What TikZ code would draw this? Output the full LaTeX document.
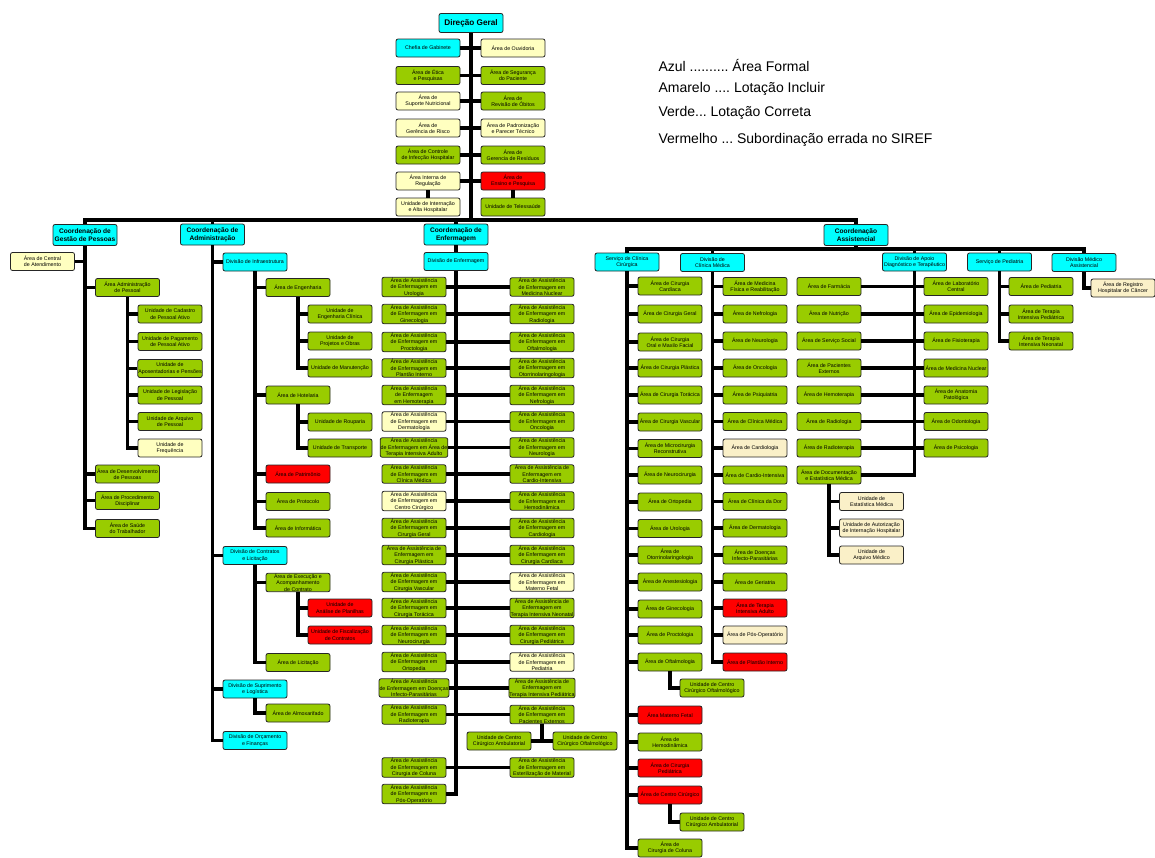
\documentclass[tikz,border=0pt]{standalone}
\usepackage{fontspec}
\setmainfont{Liberation Sans}
\usetikzlibrary{calc}
\frenchspacing
\definecolor{ciano}{RGB}{0,255,255}
\definecolor{verde}{RGB}{153,204,0}
\definecolor{amarelo}{RGB}{255,255,192}
\definecolor{bege}{RGB}{250,240,200}
\definecolor{vermelho}{RGB}{255,0,0}
\tikzset{
  caixa/.style={draw=black!85,line width=0.8pt,rounded corners=2pt,minimum width=64pt,inner xsep=0.5pt,inner ysep=0.5pt,minimum height=18pt,align=center,font=\fontsize{5.3}{6.4}\selectfont},
  az/.style={caixa,fill=ciano},
  vd/.style={caixa,fill=verde},
  am/.style={caixa,fill=amarelo},
  be/.style={caixa,fill=bege},
  vm/.style={caixa,fill=vermelho},
  coord/.style={caixa,fill=ciano,minimum height=21pt,font=\bfseries\fontsize{6.6}{7.8}\selectfont},
  liga/.style={line width=3.6pt},
  legenda/.style={anchor=west,font=\fontsize{14}{16}\selectfont}
}
\newcommand{\aae}[1]{Área de Assistência\\de Enfermagem em\\#1}
\begin{document}
\begin{tikzpicture}[x=1pt,y=-1pt]
\useasboundingbox (0,0) rectangle (1155,857);
\node[coord,minimum height=19pt,font=\bfseries\fontsize{8.2}{9}\selectfont] (dg) at (471,23) {Direção Geral};
\node[az] (gab) at (428,48) {Chefia de Gabinete};
\node[am] (ouv) at (513,48) {Área de Ouvidoria};
\node[vd] (etica) at (428,75.5) {Área de Ética\\e Pesquisas};
\node[vd] (seg) at (513,75.5) {Área de Segurança\\do Paciente};
\node[am] (nutr) at (428,101) {Área de\\Suporte Nutricional};
\node[vd] (obitos) at (513,101) {Área de\\Revisão de Óbitos};
\node[am] (risco) at (428,128) {Área de\\Gerência de Risco};
\node[am] (padr) at (513,128) {Área de Padronização\\e Parecer Técnico};
\node[vd] (infec) at (428,155) {Área de Controle\\de Infecção Hospitalar};
\node[vd] (resid) at (513,155) {Área de\\Gerencia de Resíduos};
\node[am] (regul) at (428,181) {Área Interna de\\Regulação};
\node[vm] (ensino) at (513,181) {Área de\\Ensino e Pesquisa};
\node[am] (intern) at (428,207) {Unidade de Internação\\e Alta Hospitalar};
\node[vd] (teles) at (513,207) {Unidade de Telessaúde};
\coordinate (bar) at (471,220);
\draw[liga] (dg.south) -- (bar);
\draw[liga] (gab.east) -- (ouv.west) (etica.east) -- (seg.west) (nutr.east) -- (obitos.west)
  (risco.east) -- (padr.west) (infec.east) -- (resid.west) (regul.east) -- (ensino.west);
\draw[liga] (regul.south) -- (intern.north) (ensino.south) -- (teles.north);

\node[legenda] (leg1) at (655,65) {Azul .......... Área Formal};
\node[legenda] (leg2) at (655,89) {Amarelo .... Lotação Incluir};
\node[legenda] (leg3) at (655,113) {Verde... Lotação Correta};
\node[legenda] (leg4) at (655,140) {Vermelho ... Subordinação errada no SIREF};

\node[coord] (gp) at (85,235) {Coordenação de\\Gestão de Pessoas};
\node[coord] (adm) at (212.5,234.5) {Coordenação de\\Administração};
\node[coord] (enf) at (456,234.5) {Coordenação de\\Enfermagem};
\node[coord] (ca) at (856,235) {Coordenação\\Assistencial};
\draw[liga] (gp.north) -- (gp.north |- bar) -- (ca.north |- bar) -- (ca.north);
\draw[liga] (adm.north) -- (adm.north |- bar) (enf.north) -- (enf.north |- bar);

\node[am] (central) at (42.5,261.5) {Área de Central\\de Atendimento};
\node[vd] (admpes) at (127.5,287.5) {Área Administração\\de Pessoal};
\node[vd] (gp1) at (170,314) {Unidade de Cadastro\\de Pessoal Ativo};
\node[vd] (gp2) at (170,341.5) {Unidade de Pagamento\\de Pessoal Ativo};
\node[vd] (gp3) at (170,368.5) {Unidade de\\Aposentadorias e Pensões};
\node[vd] (gp4) at (170,395) {Unidade de Legislação\\de Pessoal};
\node[vd] (gp5) at (170,421.5) {Unidade de Arquivo\\de Pessoal};
\node[am] (gp6) at (170,448) {Unidade de\\Frequência};
\node[vd] (desenv) at (127.5,474) {Área de Desenvolvimento\\de Pessoas};
\node[vd] (proced) at (127.5,500.5) {Área de Procedimento\\Disciplinar};
\node[vd] (saude) at (127.5,528.5) {Área de Saúde\\do Trabalhador};
\draw[liga] (central.east) -- (central.east -| gp) (admpes.west) -- (admpes.west -| gp)
  (desenv.west) -- (desenv.west -| gp) (proced.west) -- (proced.west -| gp);
\draw[liga] (gp.south) |- (saude.west);
\draw[liga] (gp1.west) -- (gp1.west -| admpes) (gp2.west) -- (gp2.west -| admpes)
  (gp3.west) -- (gp3.west -| admpes) (gp4.west) -- (gp4.west -| admpes) (gp5.west) -- (gp5.west -| admpes);
\draw[liga] (admpes.south) |- (gp6.west);

\node[az] (infra) at (255,262) {Divisão de Infraestrutura};
\node[vd] (eng) at (298,287.5) {Área de Engenharia};
\node[vd] (eng1) at (340,314) {Unidade de\\Engenharia Clínica};
\node[vd] (eng2) at (340,341) {Unidade de\\Projetos e Obras};
\node[vd] (eng3) at (340,368) {Unidade de Manutenção};
\node[vd] (hot) at (298,395) {Área de Hotelaria};
\node[vd] (hot1) at (340,422) {Unidade de Rouparia};
\node[vd] (hot2) at (340,448) {Unidade de Transporte};
\node[vm] (patr) at (298,474) {Área de Patrimônio};
\node[vd] (prot) at (298,501.5) {Área de Protocolo};
\node[vd] (info) at (298,528) {Área de Informática};
\node[az] (contr) at (255,555.5) {Divisão de Contratos\\e Licitação};
\node[vd] (exec) at (298,582.5) {Área de Execução e\\Acompanhamento\\de Contrato};
\node[vm] (plan) at (340,608) {Unidade de\\Análise de Planilhas};
\node[vm] (fisc) at (340,635) {Unidade de Fiscalização\\de Contratos};
\node[vd] (licit) at (298,662.5) {Área de Licitação};
\node[az] (supr) at (255,689) {Divisão de Suprimento\\e Logística};
\node[vd] (almox) at (298,713) {Área de Almoxarifado};
\node[az] (orc) at (255,740.5) {Divisão de Orçamento\\e Finanças};
\draw[liga] (infra.west) -- (infra.west -| adm) (contr.west) -- (contr.west -| adm) (supr.west) -- (supr.west -| adm);
\draw[liga] (adm.south) |- (orc.west);
\draw[liga] (eng.west) -- (eng.west -| infra) (hot.west) -- (hot.west -| infra)
  (patr.west) -- (patr.west -| infra) (prot.west) -- (prot.west -| infra);
\draw[liga] (infra.south) |- (info.west);
\draw[liga] (eng1.west) -- (eng1.west -| eng) (eng2.west) -- (eng2.west -| eng);
\draw[liga] (eng.south) |- (eng3.west);
\draw[liga] (hot1.west) -- (hot1.west -| hot);
\draw[liga] (hot.south) |- (hot2.west);
\draw[liga] (exec.west) -- (exec.west -| contr);
\draw[liga] (contr.south) |- (licit.west);
\draw[liga] (plan.west) -- (plan.west -| exec);
\draw[liga] (exec.south) |- (fisc.west);
\draw[liga] (supr.south) |- (almox.west);

\node[az] (divenf) at (456,261.5) {Divisão de Enfermagem};
\draw[liga] (enf.south) -- (divenf.north);
\node[vd] (el1) at (414,287) {\aae{Urologia}};
\node[vd] (el2) at (414,314) {\aae{Ginecologia}};
\node[vd] (el3) at (414,342) {\aae{Proctologia}};
\node[vd] (el4) at (414,368) {\aae{Plantão Interno}};
\node[vd] (el5) at (414,395) {Área de Assistência\\de Enfermagem\\em Hemoterapia};
\node[am] (el6) at (414,421.5) {\aae{Dermatologia}};
\node[vd] (el7) at (414,447.5) {Área de Assistência\\de Enfermagem em Área de\\Terapia Intensiva Adulto};
\node[vd] (el8) at (414,474) {\aae{Clínica Médica}};
\node[am] (el9) at (414,501) {\aae{Centro Cirúrgico}};
\node[vd] (el10) at (414,528) {\aae{Cirurgia Geral}};
\node[vd] (el11) at (414,555) {Área de Assistência de\\Enfermagem em\\Cirurgia Plástica};
\node[vd] (el12) at (414,582) {\aae{Cirurgia Vascular}};
\node[vd] (el13) at (414,608) {\aae{Cirurgia Torácica}};
\node[vd] (el14) at (414,635) {\aae{Neurocirurgia}};
\node[vd] (el15) at (414,662) {\aae{Ortopedia}};
\node[vd] (el16) at (414,688) {Área de Assistência\\de Enfermagem em Doenças\\Infecto-Parasitárias};
\node[vd] (el17) at (414,714.5) {\aae{Radioterapia}};
\node[vd] (el18) at (414,767.5) {\aae{Cirurgia de Coluna}};
\node[vd] (el19) at (414,794) {\aae{Pós-Operatório}};
\node[vd] (er1) at (542,287) {\aae{Medicina Nuclear}};
\node[vd] (er2) at (542,314) {\aae{Radiologia}};
\node[vd] (er3) at (542,342) {\aae{Oftalmologia}};
\node[vd] (er4) at (542,368) {\aae{Otorrinolaringologia}};
\node[vd] (er5) at (542,395) {\aae{Nefrologia}};
\node[vd] (er6) at (542,421.5) {\aae{Oncologia}};
\node[vd] (er7) at (542,447.5) {\aae{Neurologia}};
\node[vd] (er8) at (542,474) {Área de Assistência de\\Enfermagem em\\Cardio-Intensiva};
\node[vd] (er9) at (542,501) {\aae{Hemodinâmica}};
\node[vd] (er10) at (542,528) {\aae{Cardiologia}};
\node[vd] (er11) at (542,555) {\aae{Cirurgia Cardíaca}};
\node[am] (er12) at (542,582) {\aae{Materno Fetal}};
\node[vd] (er13) at (542,608) {Área de Assistência de\\Enfermagem em\\Terapia Intensiva Neonatal};
\node[vd] (er14) at (542,635) {\aae{Cirurgia Pediátrica}};
\node[am] (er15) at (542,662) {\aae{Pediatria}};
\node[vd] (er16) at (542,688) {Área de Assistência de\\Enfermagem em\\Terapia Intensiva Pediátrica};
\node[vd] (er17) at (542,714.5) {\aae{Pacientes Externos}};
\node[vd] (er18) at (542,767.5) {\aae{Esterilização de Material}};
\node[vd] (ucca) at (499,741) {Unidade de Centro\\Cirúrgico Ambulatorial};
\node[vd] (ucco) at (585,741) {Unidade de Centro\\Cirúrgico Oftalmológico};
\draw[liga] (el1.east) -- (er1.west) (el2.east) -- (er2.west) (el3.east) -- (er3.west)
  (el4.east) -- (er4.west) (el5.east) -- (er5.west) (el6.east) -- (er6.west)
  (el7.east) -- (er7.west) (el8.east) -- (er8.west) (el9.east) -- (er9.west)
  (el10.east) -- (er10.west) (el11.east) -- (er11.west) (el12.east) -- (er12.west)
  (el13.east) -- (er13.west) (el14.east) -- (er14.west) (el15.east) -- (er15.west)
  (el16.east) -- (er16.west) (el17.east) -- (er17.west) (el18.east) -- (er18.west);
\draw[liga] (divenf.south) |- (el19.east);
\draw[liga] (er17.south) -- (er17.south |- ucca.east) (ucca.east) -- (ucco.west);

\coordinate (bar2) at (856,249);
\node[az] (cc) at (627,262) {Serviço de Clínica\\Cirúrgica};
\node[az] (cm) at (712.5,262.5) {Divisão de\\Clínica Médica};
\node[az] (adt) at (914.5,262) {Divisão de Apoio\\Diagnóstico e Terapêutico};
\node[az] (ped) at (999.5,262) {Serviço de Pediatria};
\node[az] (ma) at (1084,262.5) {Divisão Médico\\Assistencial};
\draw[liga] (ca.south) -- (bar2);
\draw[liga] (cc.north) -- (cc.north |- bar2) -- (ma.north |- bar2) -- (ma.north);
\draw[liga] (cm.north) -- (cm.north |- bar2) (adt.north) -- (adt.north |- bar2) (ped.north) -- (ped.north |- bar2);

\node[vd] (cc1) at (670,286) {Área de Cirurgia\\Cardíaca};
\node[vd] (cc2) at (670,314) {Área de Cirurgia Geral};
\node[vd] (cc3) at (670,342) {Área de Cirurgia\\Oral e Maxilo Facial};
\node[vd] (cc4) at (670,368) {Área de Cirurgia Plástica};
\node[vd] (cc5) at (670,395) {Área de Cirurgia Torácica};
\node[vd] (cc6) at (670,422) {Área de Cirurgia Vascular};
\node[vd] (cc7) at (670,448.5) {Área de Microcirurgia\\Reconstrutiva};
\node[vd] (cc8) at (670,475) {Área de Neurocirurgia};
\node[vd] (cc9) at (670,502) {Área de Ortopedia};
\node[vd] (cc10) at (670,528.5) {Área de Urologia};
\node[vd] (cc11) at (670,555) {Área de\\Otorrinolaringologia};
\node[vd] (cc12) at (670,582) {Área de Anestesiologia};
\node[vd] (cc13) at (670,609) {Área de Ginecologia};
\node[vd] (cc14) at (670,635) {Área de Proctologia};
\node[vd] (cc15) at (670,662) {Área de Oftalmologia};
\node[vd] (cco1) at (712,688) {Unidade de Centro\\Cirúrgico Oftalmológico};
\node[vm] (cc16) at (670,715) {Área Materno Fetal};
\node[vd] (cc17) at (670,742) {Área de\\Hemodinâmica};
\node[vm] (cc18) at (670,768) {Área de Cirurgia\\Pediátrica};
\node[vm] (cc19) at (670,795) {Área de Centro Cirúrgico};
\node[vd] (cca1) at (712,822) {Unidade de Centro\\Cirúrgico Ambulatorial};
\node[vd] (cc20) at (670,848) {Área de\\Cirurgia de Coluna};
\draw[liga] (cc1.west) -- (cc1.west -| cc) (cc2.west) -- (cc2.west -| cc) (cc3.west) -- (cc3.west -| cc)
  (cc4.west) -- (cc4.west -| cc) (cc5.west) -- (cc5.west -| cc) (cc6.west) -- (cc6.west -| cc)
  (cc7.west) -- (cc7.west -| cc) (cc8.west) -- (cc8.west -| cc) (cc9.west) -- (cc9.west -| cc)
  (cc10.west) -- (cc10.west -| cc) (cc11.west) -- (cc11.west -| cc) (cc12.west) -- (cc12.west -| cc)
  (cc13.west) -- (cc13.west -| cc) (cc14.west) -- (cc14.west -| cc) (cc15.west) -- (cc15.west -| cc)
  (cc16.west) -- (cc16.west -| cc) (cc17.west) -- (cc17.west -| cc) (cc18.west) -- (cc18.west -| cc)
  (cc19.west) -- (cc19.west -| cc);
\draw[liga] (cc.south) |- (cc20.west);
\draw[liga] (cc15.south) |- (cco1.west);
\draw[liga] (cc19.south) |- (cca1.west);

\node[vd] (cm1) at (755,286.5) {Área de Medicina\\Física e Reabilitação};
\node[vd] (cm2) at (755,314) {Área de Nefrologia};
\node[vd] (cm3) at (755,341) {Área de Neurologia};
\node[vd] (cm4) at (755,368) {Área de Oncologia};
\node[vd] (cm5) at (755,395) {Área de Psiquiatria};
\node[vd] (cm6) at (755,421.5) {Área de Clínica Médica};
\node[be] (cm7) at (755,448) {Área de Cardiologia};
\node[vd] (cm8) at (755,475) {Área de Cardio-Intensiva};
\node[vd] (cm9) at (755,501.5) {Área de Clínica da Dor};
\node[vd] (cm10) at (755,528) {Área de Dermatologia};
\node[vd] (cm11) at (755,555) {Área de Doenças\\Infecto-Parasitárias};
\node[vd] (cm12) at (755,582) {Área de Geriatria};
\node[vm] (cm13) at (755,608) {Área de Terapia\\Intensiva Adulto};
\node[be] (cm14) at (755,635) {Área de Pós-Operatório};
\node[vm] (cm15) at (755,662) {Área de Plantão Interno};
\draw[liga] (cm1.west) -- (cm1.west -| cm) (cm2.west) -- (cm2.west -| cm) (cm3.west) -- (cm3.west -| cm)
  (cm4.west) -- (cm4.west -| cm) (cm5.west) -- (cm5.west -| cm) (cm6.west) -- (cm6.west -| cm)
  (cm7.west) -- (cm7.west -| cm) (cm8.west) -- (cm8.west -| cm) (cm9.west) -- (cm9.west -| cm)
  (cm10.west) -- (cm10.west -| cm) (cm11.west) -- (cm11.west -| cm) (cm12.west) -- (cm12.west -| cm)
  (cm13.west) -- (cm13.west -| cm) (cm14.west) -- (cm14.west -| cm);
\draw[liga] (cm.south) |- (cm15.west);

\node[vd] (al1) at (829,286.5) {Área de Farmácia};
\node[vd] (al2) at (829,314) {Área de Nutrição};
\node[vd] (al3) at (829,341) {Área de Serviço Social};
\node[vd] (al4) at (829,368) {Área de Pacientes\\Externos};
\node[vd] (al5) at (829,395) {Área de Hemoterapia};
\node[vd] (al6) at (829,421.5) {Área de Radiologia};
\node[vd] (al7) at (829,448) {Área de Radioterapia};
\node[vd] (al8) at (829,475) {Área de Documentação\\e Estatística Médica};
\node[vd] (ar1) at (956,286.5) {Área de Laboratório\\Central};
\node[vd] (ar2) at (956,314) {Área de Epidemiologia};
\node[vd] (ar3) at (956,341) {Área de Fisioterapia};
\node[vd] (ar4) at (956,368) {Área de Medicina Nuclear};
\node[vd] (ar5) at (956,395) {Área de Anatomia\\Patológica};
\node[vd] (ar6) at (956,421.5) {Área de Odontologia};
\node[vd] (ar7) at (956,448) {Área de Psicologia};
\node[be] (doc1) at (871.5,501.5) {Unidade de\\Estatística Médica};
\node[be] (doc2) at (871.5,528) {Unidade de Autorização\\de Internação Hospitalar};
\node[be] (doc3) at (871.5,555) {Unidade de\\Arquivo Médico};
\draw[liga] (al1.east) -- (ar1.west) (al2.east) -- (ar2.west) (al3.east) -- (ar3.west)
  (al4.east) -- (ar4.west) (al5.east) -- (ar5.west) (al6.east) -- (ar6.west) (al7.east) -- (ar7.west);
\draw[liga] (adt.south) |- (al8.east);
\draw[liga] (doc1.west) -- (doc1.west -| al8) (doc2.west) -- (doc2.west -| al8);
\draw[liga] (al8.south) |- (doc3.west);

\node[vd] (pd1) at (1041,286.5) {Área de Pediatria};
\node[vd] (pd2) at (1041,314) {Área de Terapia\\Intensiva Pediátrica};
\node[vd] (pd3) at (1041,341) {Área de Terapia\\Intensiva Neonatal};
\draw[liga] (pd1.west) -- (pd1.west -| ped) (pd2.west) -- (pd2.west -| ped);
\draw[liga] (ped.south) |- (pd3.west);
\node[be] (rhc) at (1123,288) {Área de Registro\\Hospitalar de Câncer};
\draw[liga] (ma.south) |- (rhc.west);
\end{tikzpicture}
\end{document}
